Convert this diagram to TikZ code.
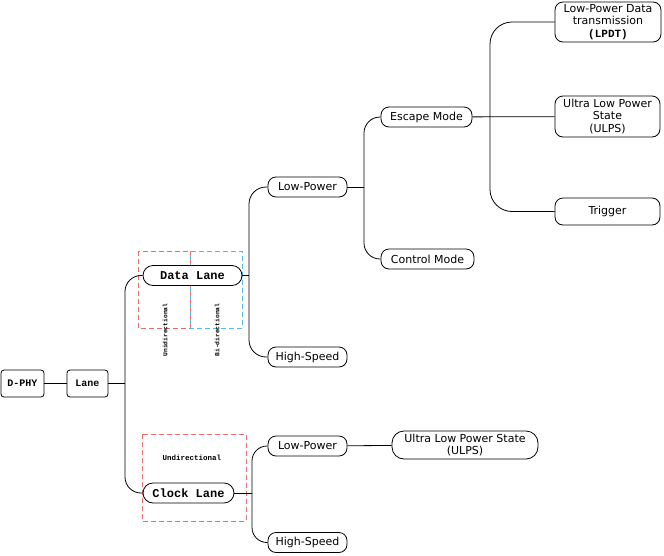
\documentclass[tikz,border=0pt]{standalone}
\usepackage{fontspec}
\setmainfont{DejaVu Sans}
\newfontfamily\monofont{Liberation Mono}
\definecolor{dashred}{RGB}{232,110,110}
\definecolor{dashblue}{RGB}{90,185,230}
\tikzstyle{mode} = [draw=black, rounded corners=8pt, align=center, inner sep=1pt, minimum height=20pt, font={\fontsize{11}{12.5}\selectfont}]
\tikzstyle{lane} = [draw=black, rounded corners=10pt, inner sep=1pt, minimum height=20pt, font={\monofont\bfseries\fontsize{12}{13}\selectfont}]
\tikzstyle{root} = [draw=black, rounded corners=3pt, inner sep=1pt, minimum height=27pt, font={\monofont\bfseries\fontsize{10}{11}\selectfont}]
\tikzstyle{tag} = [font={\monofont\bfseries\fontsize{6.3}{7}\selectfont}, inner sep=0pt]
\tikzstyle{branch} = [draw=black, line width=0.8pt]
\tikzstyle{redbox} = [draw=dashred, line width=0.8pt, dash pattern=on 5pt off 3pt]
\tikzstyle{bluebox} = [draw=dashblue, line width=0.8pt, dash pattern=on 5pt off 3pt]

\begin{document}
\begin{tikzpicture}[x=1pt, y=-1pt, line width=0.8pt]
    \useasboundingbox (0,0) rectangle (664,555);
    % lane frames
    \draw[redbox] (138,251) rectangle (190,328);
    \draw[bluebox, dash phase=4pt] (190,251) rectangle (242,328);
    \draw[redbox] (142,434) rectangle (246,521);
    \node[tag, rotate=90](uni) at (165,330){Unidirectional};
    \node[tag, rotate=90](bi) at (217,330){Bi-directional};
    \node[tag, font={\monofont\bfseries\fontsize{7.5}{8}\selectfont}](undir) at (192,458){Undirectional};
    % nodes
    \node[root, minimum width=43pt](dphy) at (22.5,383.5){D-PHY};
    \node[root, minimum width=41pt](lane) at (87.5,383.5){Lane};
    \node[lane, minimum width=99pt, fill=white](data) at (192.5,275.5){Data Lane};
    \node[lane, minimum width=91pt, fill=white](clock) at (188.5,493){Clock Lane};
    \node[mode, minimum width=79pt](lp) at (307.5,187){Low-Power};
    \node[mode, minimum width=79pt](hs) at (307.5,357){High-Speed};
    \node[mode, minimum width=91pt](esc) at (426.5,117){Escape Mode};
    \node[mode, minimum width=93pt](ctrl) at (427.5,259){Control Mode};
    \node[mode, minimum width=106pt, minimum height=40pt](lpdt) at (608,22){Low-Power Data\\transmission\\{\monofont\bfseries (LPDT)}};
    \node[mode, minimum width=105pt, minimum height=41pt](ulps) at (607.5,116.5){Ultra Low Power\\State\\(ULPS)};
    \node[mode, minimum width=105pt, minimum height=27pt](trig) at (607.5,211.5){Trigger};
    \node[mode, minimum width=79pt](clp) at (307.5,446){Low-Power};
    \node[mode, minimum width=79pt](chs) at (307.5,542.5){High-Speed};
    \node[mode, minimum width=146pt, minimum height=28pt, rounded corners=12pt](culps) at (465,445){Ultra Low Power State\\(ULPS)};
    % trunks
    \coordinate (t0) at (125,383.5);
    \coordinate (t1) at (249,275.5);
    \coordinate (t2) at (364,187);
    \coordinate (t3) at (490,117);
    \coordinate (t4) at (252,493);
    \draw[branch](dphy)--(lane);
    \draw[branch](lane)--(t0);
    \draw[branch, rounded corners=16pt](t0)|-(data.west);
    \draw[branch, rounded corners=16pt](t0)|-(clock.west);
    \draw[branch](data)--(t1);
    \draw[branch, rounded corners=17pt](t1)|-(lp.west);
    \draw[branch, rounded corners=17pt](t1)|-(hs.west);
    \draw[branch](lp)--(t2);
    \draw[branch, rounded corners=16pt](t2)|-(esc.west);
    \draw[branch, rounded corners=16pt](t2)|-(ctrl.west);
    \draw[branch](esc)--(ulps);
    \draw[branch, rounded corners=22pt](t3)|-(lpdt.west);
    \draw[branch, rounded corners=22pt](t3)|-(trig.west);
    \draw[branch](clock)--(t4);
    \draw[branch, rounded corners=15pt](t4)|-(clp.west);
    \draw[branch, rounded corners=15pt](t4)|-(chs.west);
    \draw[branch](clp)--(culps);
  \end{tikzpicture}
\end{document}
